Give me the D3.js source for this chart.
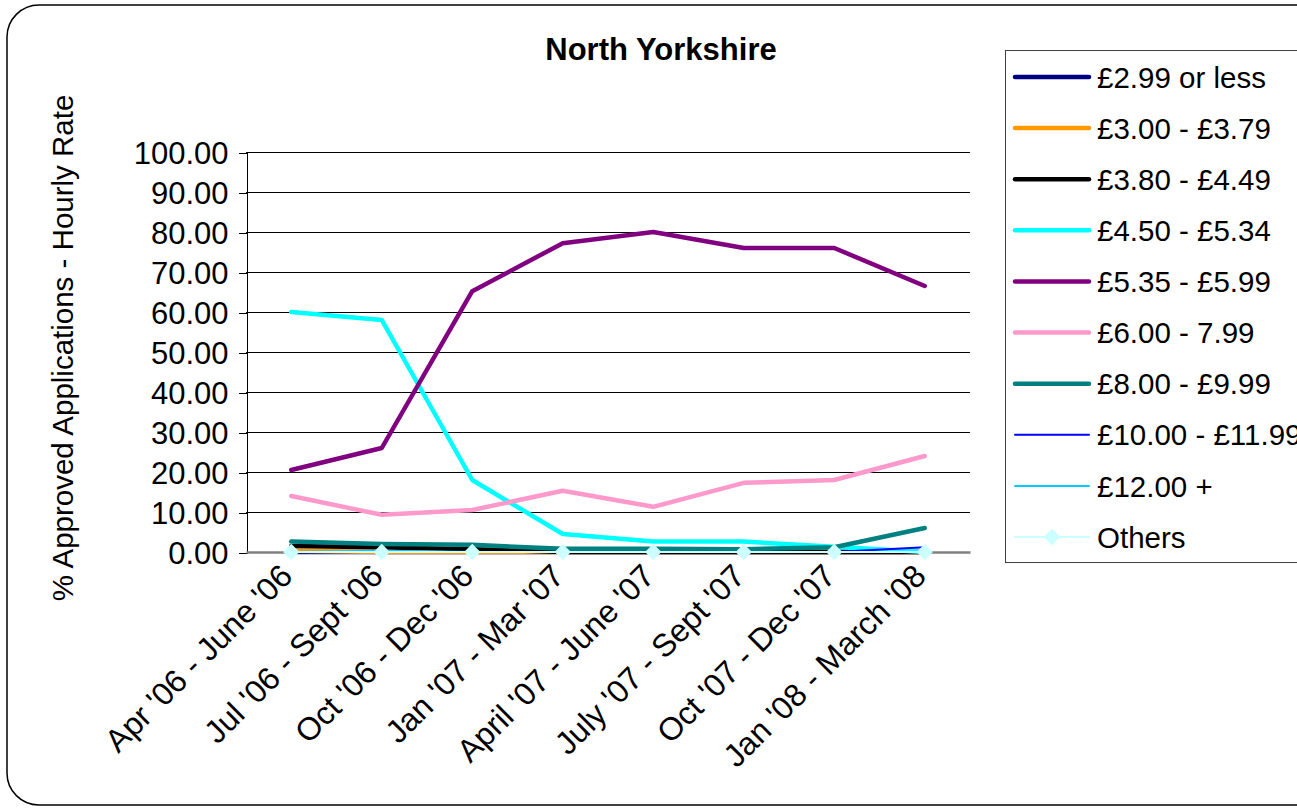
<!DOCTYPE html>
<html>
<head>
<meta charset="utf-8">
<script src="https://cdn.jsdelivr.net/npm/d3@7"></script>
<style>
  html, body { margin: 0; padding: 0; background: #fff; }
  svg { display: block; font-family: Arial, "Liberation Sans", sans-serif; }
</style>
</head>
<body>
<svg id="chart" width="1297" height="810"></svg>
<script>
const categories = ["Apr '06 - June '06", "Jul '06 - Sept '06", "Oct '06 - Dec '06", "Jan '07 - Mar '07",
  "April '07 - June '07", "July '07 - Sept '07", "Oct '07 - Dec '07", "Jan '08 - March '08"];

const seriesNames = ["£2.99 or less", "£3.00 - £3.79", "£3.80 - £4.49", "£4.50 - £5.34", "£5.35 - £5.99",
  "£6.00 - 7.99", "£8.00 - £9.99", "£10.00 - £11.99", "£12.00 +", "Others"];

const v299 =    [0, 0, 0, 0, 0, 0, 0, 0];
const v300 =    [0.3, 0, 0, 0, 0, 0, 0, 0];
const v380 =    [1.5, 1.2, 0.7, 0, 0, 0, 0, 0];
const v450 =    [60, 58, 18, 4.5, 2.6, 2.6, 1.3, 0];
const v535 =    [20.5, 26, 65.2, 77.2, 80, 76, 76, 66.5];
const v600 =    [14, 9.3, 10.5, 15.3, 11.3, 17.3, 18, 24];
const v800 =    [2.6, 2.0, 1.8, 0.8, 0.8, 0.7, 1.2, 6];
const v1000 =   [0, 0, 0, 0, 0, 0, 0, 1.2];
const v1200 =   [0, 0.3, 0, 0, 0, 0, 0, 0];
const vOthers = [0, 0, 0, 0, 0, 0, 0, 0];

const yTicks = [0, 10, 20, 30, 40, 50, 60, 70, 80, 90, 100];

const seriesValues = [v299, v300, v380, v450, v535, v600, v800, v1000, v1200, vOthers];
const seriesColors = ["#000080", "#FF9900", "#000000", "#00FFFF", "#800080", "#FF99CC", "#008080", "#0000FF", "#00CCFF", "#CCFFFF"];
const seriesWidths = [4.5, 4.5, 4.5, 4.5, 4.5, 4.5, 4.5, 2, 2, 2];

const svg = d3.select("#chart");
const FF = "Arial, 'Liberation Sans', sans-serif";

// outer rounded border
svg.append("rect").attr("x", 7).attr("y", 5).attr("width", 1330).attr("height", 800)
  .attr("rx", 32).attr("ry", 32).attr("fill", "#fff").attr("stroke", "#000").attr("stroke-width", 1.5);

const plot = { left: 246, right: 970, top: 152, bottom: 552 };

const x = d3.scaleBand().domain(categories).range([plot.left, plot.right]);
const y = d3.scaleLinear().domain([0, 100]).range([plot.bottom, plot.top]);

// gridlines
svg.append("g").selectAll("line").data(yTicks.filter(d => d > 0)).join("line")
  .attr("x1", plot.left).attr("x2", plot.right)
  .attr("y1", d => y(d) + 0.5).attr("y2", d => y(d) + 0.5)
  .attr("stroke", "#000").attr("stroke-width", 1).attr("shape-rendering", "crispEdges");

// y axis
const yAxis = d3.axisLeft(y).tickValues(yTicks).tickFormat(d3.format(".2f")).tickSize(8).tickPadding(10);
const gy = svg.append("g").attr("transform", `translate(${plot.left + 0.5},0.5)`).call(yAxis);
gy.select(".domain").attr("stroke", "#000").attr("stroke-width", 1).attr("shape-rendering", "crispEdges");
gy.selectAll(".tick line").attr("stroke", "#000").attr("shape-rendering", "crispEdges");
gy.selectAll("text").attr("font-size", 31).attr("fill", "#000").attr("font-family", FF)
  .attr("dy", "0.34em");

// x axis
const xAxis = d3.axisBottom(x).tickSize(0).tickPadding(0);
const gx = svg.append("g").attr("transform", `translate(0,${plot.bottom})`).call(xAxis);
gx.select(".domain").attr("stroke", "#808080").attr("stroke-width", 2.5);
gx.selectAll(".tick text")
  .attr("font-size", 32).attr("fill", "#000").attr("font-family", FF)
  .attr("text-anchor", "end")
  .attr("dy", 0)
  .attr("transform", "translate(3,26) rotate(-45)");

// lines
const line = d3.line()
  .x((d, i) => x(categories[i]) + x.bandwidth() / 2)
  .y(d => y(d));

const gl = svg.append("g");
seriesValues.forEach((vals, k) => {
  gl.append("path").datum(vals)
    .attr("d", line)
    .attr("fill", "none")
    .attr("stroke", seriesColors[k])
    .attr("stroke-width", seriesWidths[k])
    .attr("stroke-linejoin", "round")
    .attr("stroke-linecap", "round");
});

// Others markers (diamonds)
const diamond = d3.symbol().type(d3.symbolDiamond2 || d3.symbolDiamond).size(170);
gl.append("g").selectAll("path").data(vOthers).join("path")
  .attr("d", diamond)
  .attr("transform", (d, i) => `translate(${x(categories[i]) + x.bandwidth() / 2},${y(d)})`)
  .attr("fill", "#CCFFFF");

// title
svg.append("text").attr("x", 661).attr("y", 60).attr("text-anchor", "middle")
  .attr("font-size", 31).attr("font-weight", "bold").attr("fill", "#000")
  .text("North Yorkshire");

// y axis title
svg.append("text")
  .attr("transform", `translate(73,${(93 + 603) / 2}) rotate(-90)`)
  .attr("text-anchor", "middle")
  .attr("font-size", 29.5).attr("fill", "#000")
  .text("%  Approved Applications - Hourly Rate");

// legend
const legend = svg.append("g");
legend.append("rect").attr("x", 1005.5).attr("y", 50.5).attr("width", 320).attr("height", 512)
  .attr("fill", "#fff").attr("stroke", "#404040").attr("stroke-width", 1);
const ly = d3.scalePoint().domain(seriesNames).range([77, 537]);
seriesNames.forEach((name, k) => {
  const yy = ly(name);
  legend.append("line").attr("x1", 1015).attr("x2", 1089).attr("y1", yy).attr("y2", yy)
    .attr("stroke", seriesColors[k]).attr("stroke-width", seriesWidths[k])
    .attr("stroke-linecap", "round");
  if (name === "Others") {
    legend.append("path").attr("d", diamond)
      .attr("transform", `translate(1052,${yy})`).attr("fill", "#CCFFFF");
  }
  legend.append("text").attr("x", 1097).attr("y", yy).attr("dy", "0.36em")
    .attr("font-size", 29.5).attr("fill", "#000").text(name);
});
</script>
</body>
</html>
